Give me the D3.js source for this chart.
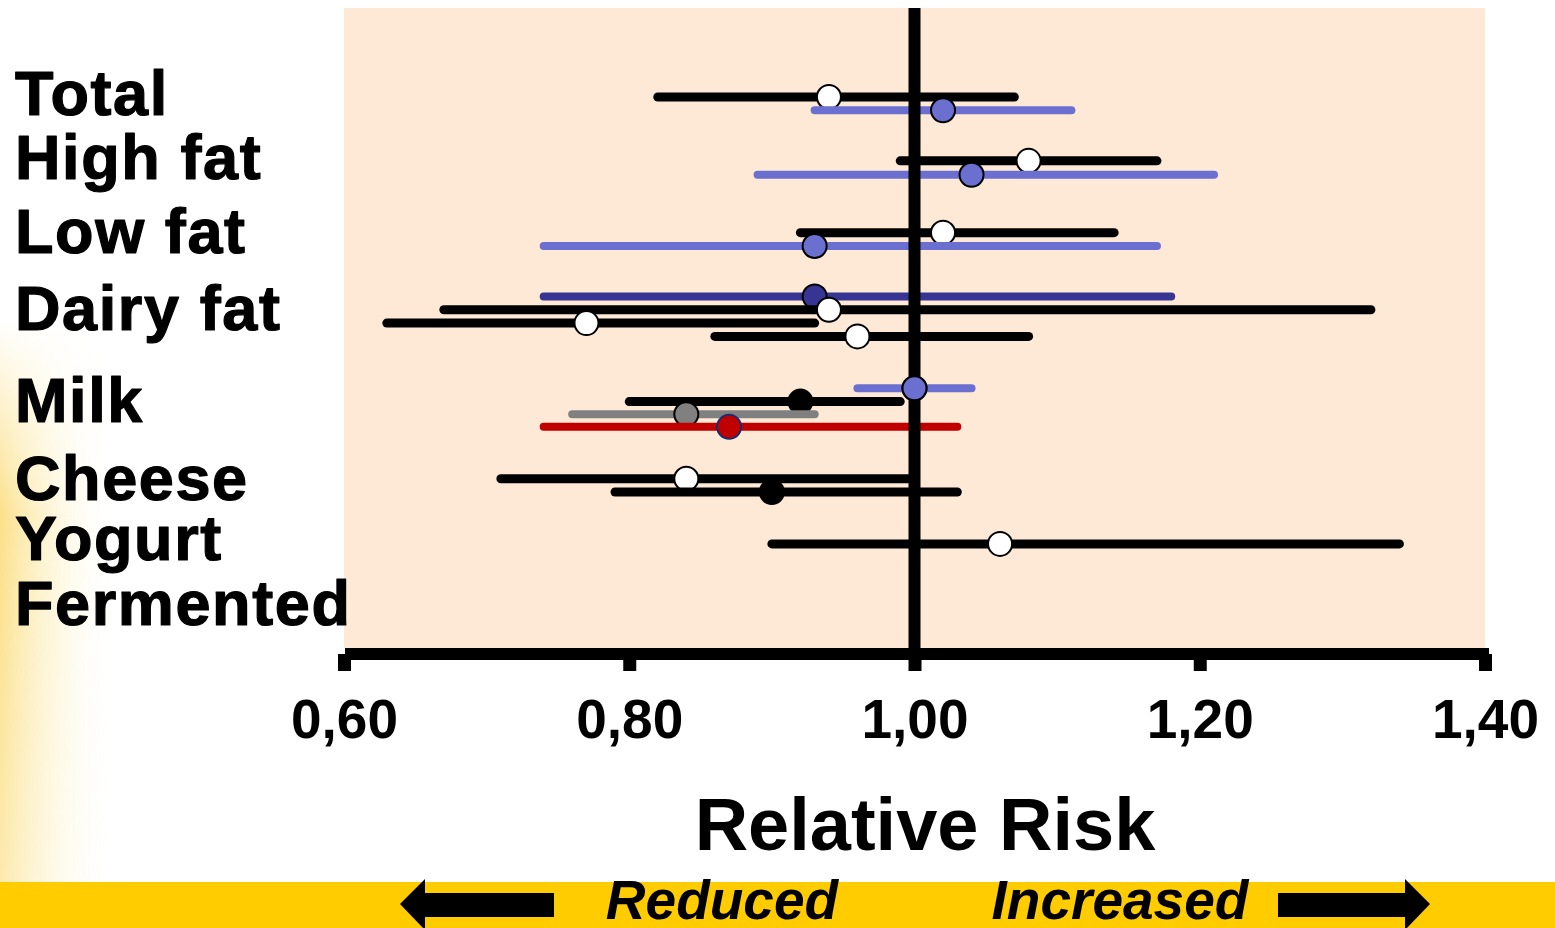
<!DOCTYPE html>
<html>
<head>
<meta charset="utf-8">
<script src="https://cdn.jsdelivr.net/npm/d3@7"></script>
<style>
  html, body { margin: 0; padding: 0; background: #fff; }
  svg { display: block; font-family: "Liberation Sans", Arial, sans-serif; }
</style>
</head>
<body>
<div id="chart"></div>
<script>
const WIDTH = 1555, HEIGHT = 928;

// categories and where their label sits (in row slots)
const categories = ["Total", "High fat", "Low fat", "Dairy fat", "Milk", "Cheese", "Yogurt", "Fermented"];
const labelSlots = [1.35, 6.2, 11.7, 17.5, 24.4, 30.3, 34.8, 39.7];

// one entry per estimate line
const rowSlot = [0, 1, 4.8, 5.85, 10.2, 11.2, 15, 16, 17, 18, 21.9, 22.9, 23.85, 24.8, 28.7, 29.7, 33.6];
const rowSeries = ["open", "blue", "open", "blue", "open", "blue", "navy", "open", "open", "open",
                   "blue", "solid", "gray", "red", "open", "solid", "open"];
const rr    = [0.94, 1.02, 1.08, 1.04, 1.02, 0.93, 0.93, 0.94, 0.77, 0.96, 1.00, 0.92, 0.84, 0.87, 0.84, 0.90, 1.06];
const lower = [0.82, 0.93, 0.99, 0.89, 0.92, 0.74, 0.74, 0.67, 0.63, 0.86, 0.96, 0.80, 0.76, 0.74, 0.71, 0.79, 0.90];
const upper = [1.07, 1.11, 1.17, 1.21, 1.14, 1.17, 1.18, 1.32, 0.93, 1.08, 1.04, 0.99, 0.93, 1.03, 1.00, 1.03, 1.34];

const xTicks = [0.6, 0.8, 1.0, 1.2, 1.4];
const axisTitle = "Relative Risk";
const leftWord = "Reduced", rightWord = "Increased";

const styles = {
  open:  {line: "#000", fill: "#fff", stroke: "#000", w: 9},
  solid: {line: "#000", fill: "#000", stroke: "#000", w: 9},
  blue:  {line: "#6b6fcf", fill: "#6b6fcf", stroke: "#000", w: 8},
  navy:  {line: "#363594", fill: "#363594", stroke: "#000", w: 8},
  gray:  {line: "#808080", fill: "#808080", stroke: "#000", w: 8},
  red:   {line: "#c00000", fill: "#c00000", stroke: "#1f2a6b", w: 8}
};

const rows = rowSlot.map(function (s, i) {
  return {slot: s, series: rowSeries[i], rr: rr[i], lo: lower[i], hi: upper[i]};
});

const svg = d3.select("#chart").append("svg")
  .attr("width", WIDTH)
  .attr("height", HEIGHT);

const x = d3.scaleLinear().domain([0.6, 1.4]).range([344, 1485]);
const y = d3.scaleLinear().domain([0, 40]).range([97, 97 + 40 * 13.3]);

// pale yellow glow along the left edge
const defs = svg.append("defs");
const glow = defs.append("linearGradient")
  .attr("id", "glow").attr("x1", 0).attr("x2", 1).attr("y1", 0).attr("y2", 0);
glow.append("stop").attr("offset", "0%").attr("stop-color", "#fbd86a").attr("stop-opacity", 0.8);
glow.append("stop").attr("offset", "35%").attr("stop-color", "#fce9a6").attr("stop-opacity", 0.55);
glow.append("stop").attr("offset", "100%").attr("stop-color", "#ffffff").attr("stop-opacity", 0);

const fade = defs.append("linearGradient")
  .attr("id", "fade").attr("x1", 0).attr("x2", 0).attr("y1", 0).attr("y2", 1);
fade.append("stop").attr("offset", "0%").attr("stop-color", "#fff").attr("stop-opacity", 0);
fade.append("stop").attr("offset", "35%").attr("stop-color", "#fff").attr("stop-opacity", 1);
fade.append("stop").attr("offset", "100%").attr("stop-color", "#fff").attr("stop-opacity", 0.7);
defs.append("mask").attr("id", "fadeMask")
  .attr("maskUnits", "userSpaceOnUse")
  .append("rect")
  .attr("x", 0).attr("y", 320).attr("width", 120).attr("height", 562)
  .attr("fill", "url(#fade)");

svg.append("rect")
  .attr("x", 0).attr("y", 320)
  .attr("width", 120).attr("height", 562)
  .attr("fill", "url(#glow)")
  .attr("mask", "url(#fadeMask)");

// plot background
svg.append("rect")
  .attr("x", x(0.6)).attr("y", 8)
  .attr("width", x(1.4) - x(0.6)).attr("height", 640)
  .attr("fill", "#fee9d6");

// category labels (rounded heavy look)
svg.append("g").selectAll("text")
  .data(categories)
  .enter()
  .append("text")
  .attr("x", 15)
  .attr("y", function (d, i) { return y(labelSlots[i]); })
  .attr("font-size", 63)
  .attr("font-weight", "bold")
  .attr("letter-spacing", 1.6)
  .attr("fill", "#000")
  .attr("stroke", "#000")
  .attr("stroke-width", 1.2)
  .attr("stroke-linejoin", "round")
  .text(function (d) { return d; });

// estimate lines and points
const marks = svg.append("g");
rows.forEach(function (d) {
  const st = styles[d.series];
  marks.append("line")
    .attr("x1", x(d.lo)).attr("x2", x(d.hi))
    .attr("y1", y(d.slot)).attr("y2", y(d.slot))
    .attr("stroke", st.line)
    .attr("stroke-width", st.w)
    .attr("stroke-linecap", "round");
  marks.append("circle")
    .attr("cx", x(d.rr)).attr("cy", y(d.slot))
    .attr("r", 12)
    .attr("fill", st.fill)
    .attr("stroke", st.stroke)
    .attr("stroke-width", 2);
});

// reference line at 1.00
svg.append("line")
  .attr("x1", x(1)).attr("x2", x(1))
  .attr("y1", 8).attr("y2", 654)
  .attr("stroke", "#000")
  .attr("stroke-width", 12);

// points sitting on the reference line are drawn above it
svg.append("g").selectAll("circle")
  .data(rows.filter(function (d) { return Math.abs(d.rr - 1) < 0.02; }))
  .enter()
  .append("circle")
  .attr("cx", function (d) { return x(d.rr); })
  .attr("cy", function (d) { return y(d.slot); })
  .attr("r", 12)
  .attr("fill", function (d) { return styles[d.series].fill; })
  .attr("stroke", function (d) { return styles[d.series].stroke; })
  .attr("stroke-width", 2);

// x axis
const fmt = d3.formatLocale({decimal: ",", thousands: ".", grouping: [3], currency: ["", ""]}).format(".2f");
const xAxis = d3.axisBottom(x).tickValues(xTicks).tickFormat(fmt).tickSizeInner(17).tickSizeOuter(0);
const axisG = svg.append("g")
  .attr("transform", "translate(0,654)")
  .call(xAxis);
axisG.select(".domain")
  .attr("stroke", "#000")
  .attr("stroke-width", 12)
  .attr("d", "M" + (x(0.6) + 1) + ",0H" + (x(1.4) + 4));
axisG.selectAll(".tick line")
  .attr("stroke", "#000")
  .attr("stroke-width", 13);
axisG.selectAll(".tick text")
  .attr("y", 84)
  .attr("dy", 0)
  .attr("fill", "#000")
  .attr("font-size", 55)
  .attr("font-weight", "bold")
  .attr("font-family", "'Liberation Sans', Arial, sans-serif");

svg.append("text")
  .attr("x", 925).attr("y", 850)
  .attr("text-anchor", "middle")
  .attr("font-size", 74)
  .attr("font-weight", "bold")
  .attr("fill", "#000")
  .text(axisTitle);

// bottom band with arrows
svg.append("rect")
  .attr("x", 0).attr("y", 882)
  .attr("width", WIDTH).attr("height", HEIGHT - 882)
  .attr("fill", "#ffcc00");

svg.append("path")
  .attr("d", "M400,904 L425,879 L425,893 L554,893 L554,917 L425,917 L425,930 Z")
  .attr("fill", "#000");
svg.append("path")
  .attr("d", "M1430,904 L1405,879 L1405,893 L1278,893 L1278,917 L1405,917 L1405,930 Z")
  .attr("fill", "#000");

svg.append("text")
  .attr("x", 722).attr("y", 919)
  .attr("text-anchor", "middle")
  .attr("font-size", 55)
  .attr("font-weight", "bold")
  .attr("font-style", "italic")
  .attr("fill", "#000")
  .text(leftWord);
svg.append("text")
  .attr("x", 1120).attr("y", 919)
  .attr("text-anchor", "middle")
  .attr("font-size", 55)
  .attr("font-weight", "bold")
  .attr("font-style", "italic")
  .attr("fill", "#000")
  .text(rightWord);
</script>
</body>
</html>
